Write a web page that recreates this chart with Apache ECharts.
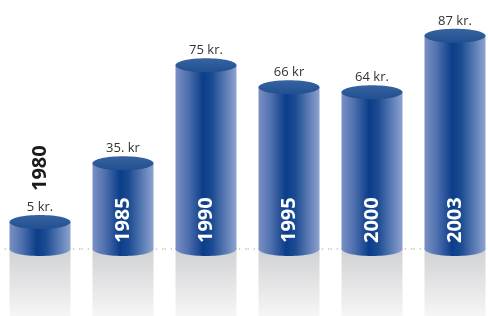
<!DOCTYPE html>
<html>
<head>
<meta charset="utf-8">
<script src="https://cdn.jsdelivr.net/npm/echarts@6/dist/echarts.min.js"></script>
<style>
  html, body { margin: 0; padding: 0; background: #fff; }
  #chart { width: 488px; height: 316px; }
</style>
</head>
<body>
<div id="chart"></div>
<script>
// data
const years = ["1980", "1985", "1990", "1995", "2000", "2003"];
const prices = [5, 35, 75, 66, 64, 87];
const priceLabels = ["5 kr.", "35. kr", "75 kr.", "66 kr", "64 kr.", "87 kr."];

const barWidth = 61;
const capRy = 7;
const minBarPx = 27; // the 1980 bar is drawn taller than its value

const bodyFill = () =>
  new echarts.graphic.LinearGradient(0, 0, 1, 0, [
    { offset: 0, color: "#7a90c4" },
    { offset: 0.2, color: "#5071af" },
    { offset: 0.45, color: "#0b3d89" },
    { offset: 0.6, color: "#1b4b92" },
    { offset: 1, color: "#8ea3d0" },
  ]);

function renderItem(params, api) {
  const i = api.value(0);
  const pt = api.coord([i, api.value(1)]);
  const cx = pt[0];
  const base = api.coord([i, 0])[1];
  const top = Math.min(pt[1], base - minBarPx);
  const hw = barWidth / 2;
  const band = api.size([1, 0])[0];
  const inside = base - top > 60;
  const labelY = top - capRy - 8;

  return {
    type: "group",
    children: [
      {
        // reflection
        type: "rect",
        shape: { x: cx - hw, y: base, width: barWidth, height: api.getHeight() - base },
        style: {
          fill: new echarts.graphic.LinearGradient(0, 0, 0, 1, [
            { offset: 0, color: "#d0d1d3" },
            { offset: 1, color: "#f6f6f6" },
          ]),
        },
      },
      {
        type: "line",
        shape: { x1: cx - band / 2, y1: base, x2: cx + band / 2, y2: base },
        style: { stroke: "#9a9a9a", lineWidth: 1, lineDash: [1.2, 5] },
      },
      {
        type: "rect",
        shape: { x: cx - hw, y: top, width: barWidth, height: base - top },
        style: { fill: bodyFill() },
      },
      {
        type: "ellipse",
        shape: { cx: cx, cy: base, rx: hw, ry: capRy },
        style: { fill: bodyFill() },
      },
      {
        type: "ellipse",
        shape: { cx: cx, cy: top, rx: hw, ry: capRy },
        style: {
          fill: new echarts.graphic.LinearGradient(0, 0, 0, 1, [
            { offset: 0, color: "#3763a1" },
            { offset: 1, color: "#214f8f" },
          ]),
        },
      },
      {
        type: "text",
        x: cx,
        y: inside ? base - 6 : labelY - 16,
        rotation: Math.PI / 2,
        style: {
          text: years[params.dataIndex],
          x: 0,
          y: 0,
          align: "left",
          verticalAlign: "middle",
          fill: inside ? "#ffffff" : "#1a1a1a",
          font: 'bold 20px "Open Sans"',
        },
      },
      {
        type: "text",
        x: cx,
        y: labelY,
        style: {
          text: priceLabels[params.dataIndex],
          align: "center",
          verticalAlign: "middle",
          fill: "#333333",
          font: '13px "Open Sans"',
        },
      },
    ],
  };
}

const chart = echarts.init(document.getElementById("chart"));
chart.setOption({
  animation: false,
  grid: { left: 40, right: 33, top: 4, bottom: 67 },
  xAxis: { type: "category", data: years, boundaryGap: false, show: false },
  yAxis: { type: "value", min: 0, max: 100, show: false },
  series: [
    {
      type: "custom",
      renderItem: renderItem,
      encode: { x: 0, y: 1 },
      data: prices.map((v, i) => [i, v]),
    },
  ],
});
</script>
</body>
</html>
